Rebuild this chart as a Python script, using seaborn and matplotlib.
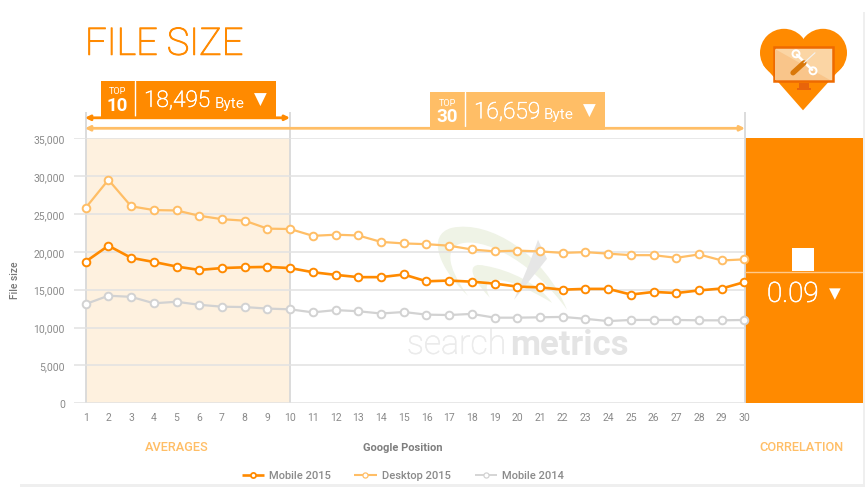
import matplotlib
matplotlib.use("Agg")
import matplotlib.pyplot as plt
import matplotlib.patheffects as pe
from matplotlib.patches import Rectangle, Circle, Polygon, PathPatch
from matplotlib.path import Path
import seaborn as sns
import pandas as pd

positions = list(range(1, 31))
mobile_2015 = [18700, 20800, 19200, 18650, 18050, 17600, 17850, 17950, 18000, 17850,
               17300, 16950, 16650, 16650, 17000, 16100, 16200, 16050, 15800, 15400,
               15300, 15000, 15100, 15100, 14350, 14700, 14550, 14900, 15150, 16000]
desktop_2015 = [25800, 29500, 26000, 25500, 25450, 24750, 24300, 24100, 23050, 23000,
                22100, 22250, 22150, 21300, 21100, 21000, 20800, 20300, 20050, 20150,
                20050, 19850, 19950, 19750, 19550, 19550, 19200, 19650, 18850, 19000]
mobile_2014 = [13100, 14200, 14050, 13200, 13400, 13000, 12750, 12700, 12500, 12400,
               12000, 12300, 12150, 11850, 12050, 11700, 11650, 11800, 11300, 11300,
               11350, 11400, 11150, 10850, 11000, 11000, 11000, 10950, 10950, 11000]
series_names = ["Mobile 2015", "Desktop 2015", "Mobile 2014"]
y_ticks = [0, 5000, 10000, 15000, 20000, 25000, 30000, 35000]

ORANGE = "#FF8A00"
LIGHT = "#FFBE66"
GREY = "#D2D2D2"
TXT = "#8A8A8A"
W, H = 865, 489
DY = 0.8

sns.set_theme(style="white")
plt.rcParams["font.family"] = ["Roboto", "DejaVu Sans"]

df = pd.DataFrame({
    "pos": positions * 3,
    "size": mobile_2015 + desktop_2015 + mobile_2014,
    "series": sum([[n] * 30 for n in series_names], []),
})

def thick(col, w):
    return [pe.withStroke(linewidth=w, foreground=col)]

fig = plt.figure(figsize=(W / 100, H / 100), dpi=100, facecolor="white")

bg = fig.add_axes([0, 0, 1, 1], zorder=0)
bg.set_xlim(0, W); bg.set_ylim(H - DY, -DY); bg.axis("off")

L, R, T, B = 74, 744.5, 138.3 + DY, 403.5 + DY
ax = fig.add_axes([L / W, 1 - B / H, (R - L) / W, (B - T) / H], zorder=1)
ax.patch.set_alpha(0)

# background decoration
bg.add_patch(Rectangle((86, 138), 204, 265.5, fc="#FEF1DF", ec="none"))
bg.add_patch(Rectangle((745, 138), 117.5, 265.5, fc=ORANGE, ec="none"))
bg.add_patch(Rectangle((20, 484), 843, 3, fc="#EFEFEF", ec="none"))
bg.add_patch(Rectangle((863, 12), 2, 475, fc="#EFEFEF", ec="none"))
for x in (85.7, 290, 744.5):
    bg.plot([x, x], [112, 403.5], color="#D9D9D9", lw=1.3, solid_capstyle="butt")

# watermark
sw = "#EFF3E6"
C = Path.CURVE4
bg.add_patch(PathPatch(Path(
    [(468, 296), (440, 270), (425, 235), (452, 228),
     (490, 220), (545, 255), (567, 310),
     (535, 265), (490, 240), (465, 243),
     (445, 245), (445, 265), (468, 296)],
    [Path.MOVETO, C, C, C, C, C, C, C, C, C, C, C, C]), fc=sw, ec="none"))
bg.add_patch(PathPatch(Path(
    [(490, 298), (465, 272), (470, 262), (485, 266),
     (510, 270), (540, 285), (552, 303),
     (530, 290), (510, 280), (495, 280),
     (485, 280), (485, 290), (490, 298)],
    [Path.MOVETO, C, C, C, C, C, C, C, C, C, C, C, C]), fc=sw, ec="none"))
bg.add_patch(Polygon([(538, 240), (547, 259), (514, 300), (530, 262)],
                     fc="#E6E6E6", ec="none"))
bg.text(407, 345, "search", fontsize=24.5, color="#EBEBEB", va="center", ha="left",
        fontweight="light", path_effects=thick("#EBEBEB", 0.4))
bg.text(510, 345, "metrics", fontsize=25, color="#E4E4E4", va="center", ha="left", fontweight="bold")

# main chart
sns.lineplot(data=df, x="pos", y="size", hue="series", hue_order=series_names,
             palette=[ORANGE, LIGHT, GREY], marker="o", errorbar=None, ax=ax,
             legend=False, clip_on=False, zorder=3)
widths = [1.9, 1.6, 1.6]
for line, col, lw in zip(ax.lines, [ORANGE, LIGHT, GREY], widths):
    line.set(linewidth=lw, markersize=5.5, markerfacecolor="white", markeredgecolor=col,
             markeredgewidth=1.4, clip_on=False)

ax.set_xlim(1 - 11.7 / 22.72, 30)
ax.set_ylim(0, 35000)
ax.set_xticks(positions)
ax.set_yticks(y_ticks)
ax.set_yticklabels([f"{v:,}" for v in y_ticks])
ax.grid(axis="y", color="#E2E2E2", lw=1.1)
ax.grid(axis="x", visible=False)
ax.set_axisbelow(True)
for s in ax.spines.values():
    s.set_visible(False)
ax.tick_params(axis="both", length=0, labelsize=7.5, labelcolor=TXT)
ax.tick_params(axis="x", pad=6.3)
ax.tick_params(axis="y", pad=6.5)
ax.set_xlabel("")
ax.set_ylabel("")

# top overlay
ov = fig.add_axes([0, 0, 1, 1], zorder=2)
ov.set_xlim(0, W); ov.set_ylim(H - DY, -DY); ov.axis("off"); ov.patch.set_alpha(0)

ov.text(85, 55, "FILE SIZE", fontsize=27.3, color=ORANGE, va="baseline", ha="left",
        fontweight="light", path_effects=thick(ORANGE, 0.7))
ov.text(15, 279, "File size", fontsize=7.4, color="#777777", rotation=90, va="center",
        ha="center", fontweight="medium")

def box(x0, x1, y0, y1, div, col, top, value, unit_x, arrow_x):
    ov.add_patch(Rectangle((x0, y0), x1 - x0, y1 - y0, fc=col, ec="none"))
    ov.plot([div, div], [y0, y1 - 3], color="white", lw=1)
    ov.text((x0 + div) / 2, y0 + 10, "TOP", fontsize=6.6, color="white", ha="center", va="center")
    ov.text((x0 + div) / 2, y0 + 24, top, fontsize=13.5, color="white", ha="center", va="center", fontweight="bold")
    ov.text(div + 9.5, y0 + 26, value, fontsize=16.3, color="white", ha="left", va="baseline",
            fontweight="light", path_effects=thick("white", 0.45))
    ov.text(unit_x, y0 + 26, "Byte", fontsize=11, color="white", ha="left", va="baseline")
    ov.text(arrow_x, y0 + 18, "▼", fontsize=12, color="white", ha="center", va="center", family=["DejaVu Sans"])

ov.annotate("", xy=(85, 128.5), xytext=(745, 128.5),
            arrowprops=dict(arrowstyle="<|-|>", color=LIGHT, lw=2, mutation_scale=7, shrinkA=0, shrinkB=0))
ov.annotate("", xy=(85, 118), xytext=(290, 118),
            arrowprops=dict(arrowstyle="<|-|>", color=ORANGE, lw=2, mutation_scale=7, shrinkA=0, shrinkB=0))
box(100.5, 276, 81, 119, 134.5, ORANGE, "10", "18,495", 214.5, 260)
box(430, 605, 92.5, 130, 464.5, LIGHT, "30", "16,659", 544, 589)

# correlation panel content
ov.add_patch(Rectangle((791.5, 248), 22, 23, fc="white", ec="none"))
ov.plot([745, 862], [272, 272], color="#FFC98A", lw=1)
ov.text(767, 302, "0.09", fontsize=20, color="white", ha="left", va="baseline",
        fontweight="light", path_effects=thick("white", 0.5))
ov.text(834.5, 293, "▼", fontsize=11, color="white", ha="center", va="center", family=["DejaVu Sans"])

# heart with monitor icon
ov.add_patch(Circle((784, 53), 24, fc=ORANGE, ec="none"))
ov.add_patch(Circle((823, 53), 24, fc=ORANGE, ec="none"))
ov.add_patch(Polygon([(763, 65), (803, 110.5), (844, 65), (804, 42)], fc=ORANGE, ec="none"))
ov.add_patch(Rectangle((773.5, 47.5), 59.5, 34, fc="#FBD5A4", ec="#EE6A00", lw=1.8))
ov.add_patch(Polygon([(775, 49), (775, 80), (830, 80)], fc="#F9C58A", ec="none"))
ov.add_patch(Rectangle((799, 83), 10, 5, fc="#E8640A", ec="none"))
ov.add_patch(Rectangle((797, 88), 14, 2, fc="#E8640A", ec="none"))
ov.plot([797, 812], [55, 70], color="white", lw=1.8, solid_capstyle="round")
for cx, cy in [(796, 54), (813, 71)]:
    ov.add_patch(Circle((cx, cy), 3.5, fc="none", ec="white", lw=1.4))
ov.plot([793, 804], [73, 63], color="#D9780A", lw=3.8, solid_capstyle="round")
ov.plot([804, 815], [63, 53], color="#F3F3F3", lw=0.8)

# footer labels
ov.text(176.5, 447, "AVERAGES", fontsize=9.2, color=LIGHT, ha="center", va="center", fontweight="medium")
ov.text(402.5, 447, "Google Position", fontsize=8, color="#7E7E7E", ha="center", va="center", fontweight="bold")
ov.text(802, 447, "CORRELATION", fontsize=9.2, color=LIGHT, ha="center", va="center", fontweight="medium")

# legend
for name, col, x0, x1, tx, lw, ms, mew in [
    (series_names[0], ORANGE, 241.5, 263.5, 269, 1.9, 3.7, 1.3),
    (series_names[1], LIGHT, 354, 376.5, 381.5, 1.5, 3.7, 0.9),
    (series_names[2], GREY, 475, 497, 502, 1.3, 3.7, 0.9),
]:
    ov.plot([x0, x1], [475, 475], color=col, lw=lw, solid_capstyle="butt")
    ov.plot([(x0 + x1) / 2], [475], marker="o", ms=ms, mfc="white", mec=col, mew=mew)
    ov.text(tx, 475, name, fontsize=8, color=TXT, ha="left", va="center", fontweight="medium")

fig.savefig("out.png", dpi=100, facecolor="white")
